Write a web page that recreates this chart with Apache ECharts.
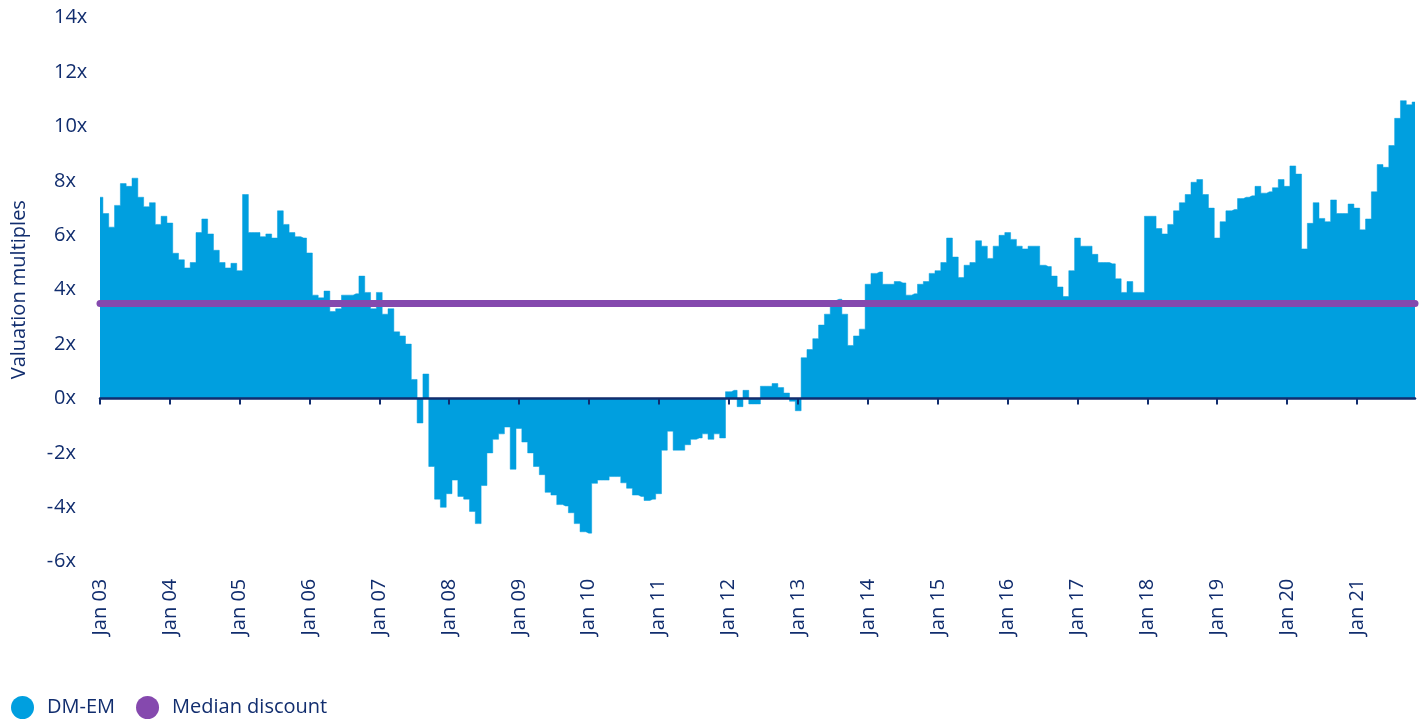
<!DOCTYPE html>
<html>
<head>
<meta charset="utf-8">
<title>DM-EM valuation multiples</title>
<script src="https://cdn.jsdelivr.net/npm/echarts@6/dist/echarts.min.js"></script>
<style>
  html, body { margin: 0; padding: 0; background: #fff; }
  #chart { width: 1424px; height: 721px; }
</style>
</head>
<body>
<div id="chart"></div>
<script>
// monthly DM-EM spread, Jan 2003 .. Nov 2021
const years = ['03', '04', '05', '06', '07', '08', '09', '10', '11', '12', '13', '14', '15', '16', '17', '18', '19', '20', '21']
const monthNames = ['Jan', 'Feb', 'Mar', 'Apr', 'May', 'Jun', 'Jul', 'Aug', 'Sep', 'Oct', 'Nov', 'Dec']
const lastMonthCount = 11 // data stops in Nov 21

const dmEm = [
  // 2003
  7.4, 6.8, 6.3, 7.1, 7.9, 7.8, 8.1, 7.4, 7.05, 7.2, 6.4, 6.7,
  // 2004
  6.45, 5.34, 5.1, 4.8, 5.0, 6.1, 6.6, 6.05, 5.45, 5.0, 4.8, 4.97,
  // 2005
  4.7, 7.5, 6.1, 6.1, 5.95, 6.05, 5.9, 6.9, 6.4, 6.1, 5.95, 5.9,
  // 2006
  5.35, 3.8, 3.7, 3.95, 3.2, 3.3, 3.8, 3.8, 3.85, 4.5, 3.9, 3.3,
  // 2007
  3.9, 3.1, 3.3, 2.45, 2.3, 2.0, 0.7, -0.9, 0.9, -2.5, -3.7, -4.0,
  // 2008
  -3.5, -3.0, -3.6, -3.7, -4.15, -4.6, -3.2, -2.0, -1.5, -1.3, -1.05, -2.6,
  // 2009
  -1.1, -1.6, -2.0, -2.5, -2.8, -3.45, -3.55, -3.9, -3.95, -4.2, -4.6, -4.9,
  // 2010
  -4.95, -3.12, -3.0, -3.0, -2.87, -2.87, -3.1, -3.3, -3.55, -3.6, -3.75, -3.7,
  // 2011
  -3.5, -1.9, -1.2, -1.9, -1.9, -1.7, -1.5, -1.45, -1.3, -1.5, -1.3, -1.45,
  // 2012
  0.25, 0.3, -0.3, 0.3, -0.2, -0.2, 0.45, 0.45, 0.55, 0.4, 0.2, -0.1,
  // 2013
  -0.45, 1.5, 1.8, 2.2, 2.7, 3.1, 3.6, 3.65, 3.1, 1.95, 2.3, 2.55,
  // 2014
  4.2, 4.6, 4.65, 4.2, 4.2, 4.3, 4.25, 3.8, 3.85, 4.2, 4.3, 4.6,
  // 2015
  4.7, 5.0, 5.9, 5.2, 4.45, 4.9, 5.0, 5.8, 5.6, 5.15, 5.6, 6.0,
  // 2016
  6.1, 5.85, 5.6, 5.5, 5.6, 5.6, 4.9, 4.85, 4.5, 4.1, 3.75, 4.7,
  // 2017
  5.9, 5.6, 5.6, 5.3, 5.0, 5.0, 4.95, 4.4, 3.9, 4.3, 3.9, 3.9,
  // 2018
  6.7, 6.7, 6.25, 6.05, 6.4, 6.9, 7.2, 7.5, 7.95, 8.05, 7.5, 7.0,
  // 2019
  5.9, 6.5, 6.9, 6.95, 7.35, 7.4, 7.45, 7.8, 7.55, 7.6, 7.75, 8.05,
  // 2020
  7.8, 8.55, 8.25, 5.5, 6.44, 7.2, 6.62, 6.5, 7.3, 6.8, 6.8, 7.15,
  // 2021
  7.0, 6.2, 6.6, 7.6, 8.6, 8.5, 9.3, 10.3, 10.95, 10.8, 10.9
]
const medianDiscount = 3.5

const categories = []
years.forEach((y, yi) => {
  const n = yi === years.length - 1 ? lastMonthCount : 12
  for (let m = 0; m < n; m++) categories.push(monthNames[m] + ' ' + y)
})

const navy = '#112d6e'
const blue = '#009fdf'
const purple = '#8549ae'
const font = 'Open Sans'
const isJan = (i, v) => v.indexOf('Jan') === 0

const chart = echarts.init(document.getElementById('chart'))
chart.setOption({
  animation: false,
  textStyle: { fontFamily: font },
  grid: { left: 100, right: 9, top: 17.7, bottom: 159.3, containLabel: false, outerBoundsMode: 'none' },
  legend: {
    left: 6,
    top: 691,
    icon: 'circle',
    itemWidth: 23,
    itemHeight: 23,
    itemGap: 21,
    textStyle: { fontFamily: font, fontSize: 20, color: navy, padding: [0, 0, 0, 8] },
    data: ['DM-EM', 'Median discount']
  },
  xAxis: [
    {
      type: 'category',
      data: categories,
      boundaryGap: false,
      z: 10,
      axisLine: { onZero: true, lineStyle: { color: navy, width: 2.5 } },
      axisTick: { interval: isJan, length: 6, lineStyle: { color: navy, width: 2 } },
      axisLabel: { show: false },
      splitLine: { show: false }
    },
    {
      type: 'category',
      data: categories,
      boundaryGap: false,
      position: 'bottom',
      axisLine: { show: false, onZero: false },
      axisTick: { show: false },
      axisLabel: {
        interval: isJan,
        rotate: 90,
        margin: 17,
        fontFamily: font,
        fontSize: 20,
        color: navy
      },
      splitLine: { show: false }
    }
  ],
  yAxis: {
    type: 'value',
    min: -6,
    max: 14,
    interval: 2,
    name: 'Valuation multiples',
    nameLocation: 'middle',
    nameGap: 71,
    nameTextStyle: { fontFamily: font, fontSize: 20, color: navy },
    axisLine: { show: false },
    axisTick: { show: false },
    splitLine: { show: false },
    axisLabel: {
      align: 'left',
      margin: 54,
      formatter: v => v < 0 ? '{m|-}{d|' + Math.abs(v) + 'x}' : '{m| }{d|' + v + 'x}',
      rich: {
        m: { width: 8, align: 'right', fontFamily: font, fontSize: 20, color: navy },
        d: { fontFamily: font, fontSize: 20, color: navy }
      }
    }
  },
  series: [
    {
      name: 'DM-EM',
      type: 'line',
      step: 'middle',
      data: dmEm,
      symbol: 'none',
      itemStyle: { color: blue },
      lineStyle: { width: 0.5, color: blue },
      areaStyle: { color: blue, opacity: 1 },
      z: 2
    },
    {
      name: 'Median discount',
      type: 'line',
      data: [],
      symbol: 'none',
      itemStyle: { color: purple },
      lineStyle: { color: purple },
      z: 4,
      markLine: {
        silent: true,
        symbol: ['none', 'none'],
        label: { show: false },
        lineStyle: { color: purple, width: 7, type: 'solid', cap: 'round' },
        data: [{ yAxis: medianDiscount }]
      }
    }
  ]
})
</script>
</body>
</html>
